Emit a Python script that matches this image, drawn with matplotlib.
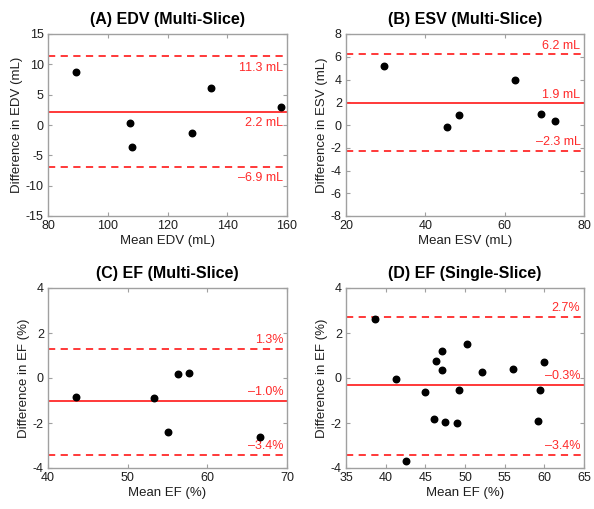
import matplotlib
matplotlib.use("Agg")
import matplotlib.pyplot as plt

plt.rcParams['font.family'] = ['Liberation Sans', 'DejaVu Sans']
plt.rcParams['axes.unicode_minus'] = False

# Panel A: EDV (Multi-Slice)
edv_mean = [89.3, 107.6, 108.2, 128.3, 134.5, 158.1]
edv_diff = [8.72, 0.25, -3.66, -1.24, 6.08, 2.94]
edv_lines = [11.3, 2.2, -6.9]
edv_labels = ["11.3 mL", "2.2 mL", "\u20136.9 mL"]

# Panel B: ESV (Multi-Slice)
esv_mean = [29.7, 45.5, 48.5, 62.7, 69.2, 72.6]
esv_diff = [5.2, -0.19, 0.9, 4.0, 0.96, 0.37]
esv_lines = [6.2, 1.9, -2.3]
esv_labels = ["6.2 mL", "1.9 mL", "\u20132.3 mL"]

# Panel C: EF (Multi-Slice)
efm_mean = [43.5, 53.3, 56.3, 57.7, 55.1, 66.6]
efm_diff = [-0.86, -0.89, 0.19, 0.24, -2.39, -2.6]
efm_lines = [1.3, -1.0, -3.4]
efm_labels = ["1.3%", "\u20131.0%", "\u20133.4%"]

# Panel D: EF (Single-Slice)
efs_mean = [38.6, 41.3, 42.5, 45.0, 46.05, 46.3, 47.1, 47.1, 47.5, 49.0,
            49.3, 50.3, 52.1, 56.1, 59.2, 59.4, 60.0]
efs_diff = [2.62, -0.04, -3.69, -0.62, -1.81, 0.74, 1.2, 0.34, -1.94, -1.99,
            -0.52, 1.5, 0.28, 0.41, -1.91, -0.52, 0.71]
efs_lines = [2.7, -0.3, -3.4]
efs_labels = ["2.7%", "\u20130.3%", "\u20133.4%"]

RED = '#ff2a2a'
GRAY = '#a0a0a0'
TXT = '#1e1e1e'

fig = plt.figure(figsize=(5.94, 5.09), dpi=100)

panels = [
    dict(pos=(48, 34, 287, 216), x=edv_mean, y=edv_diff, lines=edv_lines, labels=edv_labels,
         below=True, title="(A) EDV (Multi-Slice)", xlabel="Mean EDV (mL)",
         ylabel="Difference in EDV (mL)", xlim=(80, 160), ylim=(-15, 15),
         xticks=range(80, 161, 20), yticks=range(-15, 16, 5)),
    dict(pos=(346, 34, 584, 216), x=esv_mean, y=esv_diff, lines=esv_lines, labels=esv_labels,
         below=False, title="(B) ESV (Multi-Slice)", xlabel="Mean ESV (mL)",
         ylabel="Difference in ESV (mL)", xlim=(20, 80), ylim=(-8, 8),
         xticks=range(20, 81, 20), yticks=range(-8, 9, 2)),
    dict(pos=(48, 288, 287, 468), x=efm_mean, y=efm_diff, lines=efm_lines, labels=efm_labels,
         below=False, title="(C) EF (Multi-Slice)", xlabel="Mean EF (%)",
         ylabel="Difference in EF (%)", xlim=(40, 70), ylim=(-4, 4),
         xticks=range(40, 71, 10), yticks=range(-4, 5, 2)),
    dict(pos=(346, 288, 584, 468), x=efs_mean, y=efs_diff, lines=efs_lines, labels=efs_labels,
         below=False, title="(D) EF (Single-Slice)", xlabel="Mean EF (%)",
         ylabel="Difference in EF (%)", xlim=(35, 65), ylim=(-4, 4),
         xticks=range(35, 66, 5), yticks=range(-4, 5, 2)),
]

W, H = 594, 509
for p in panels:
    l, t, r, b = p['pos']
    ax = fig.add_axes([l / W, (H - b) / H, (r - l) / W, (b - t) / H])
    for i, (v, lab) in enumerate(zip(p['lines'], p['labels'])):
        ls = '-' if i == 1 else (0, (4, 3))
        ax.axhline(v, color=RED, lw=1.3, ls=ls, zorder=2)
        off = -4 if p['below'] else 2
        va = 'top' if p['below'] else 'bottom'
        ax.annotate(lab, xy=(0.985, v), xycoords=('axes fraction', 'data'),
                    xytext=(0, off), textcoords='offset points',
                    ha='right', va=va, color=RED, fontsize=9)
    ax.scatter(p['x'], p['y'], s=22, color='black', zorder=3)
    ax.set_xlim(*p['xlim'])
    ax.set_ylim(*p['ylim'])
    ax.set_xticks(list(p['xticks']))
    ax.set_yticks(list(p['yticks']))
    ax.tick_params(direction='in', length=3, color=GRAY, labelsize=9,
                   top=True, right=True, labelcolor=TXT, pad=3)
    for s in ax.spines.values():
        s.set_color(GRAY)
        s.set_linewidth(1.0)
    ax.set_title(p['title'], fontsize=11.5, fontweight='bold', pad=7)
    ax.set_xlabel(p['xlabel'], fontsize=9.5, labelpad=2, color=TXT)
    ax.set_ylabel(p['ylabel'], fontsize=9.5, labelpad=2, color=TXT)

fig.savefig('out.png', dpi=100)
